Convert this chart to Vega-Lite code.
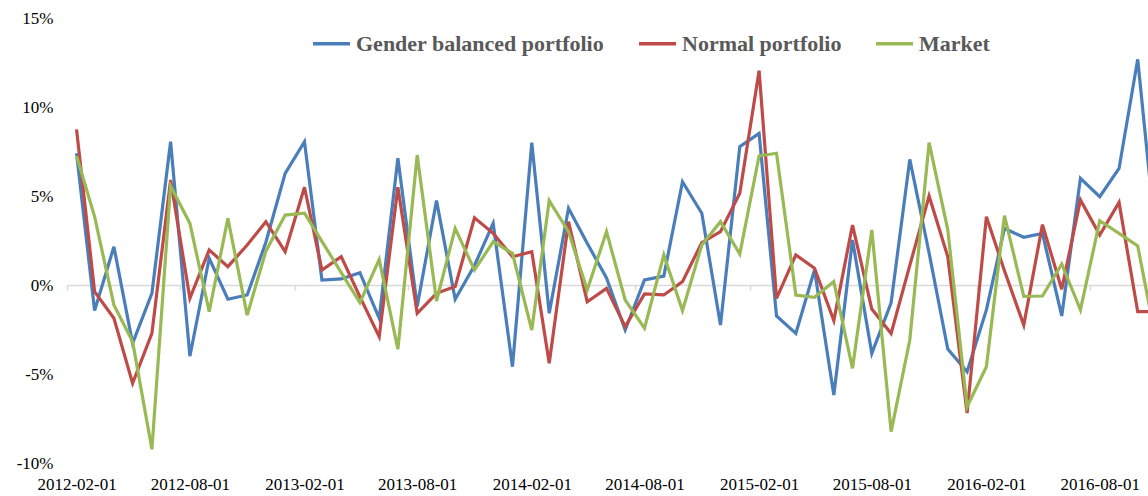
{
  "$schema": "https://vega.github.io/schema/vega-lite/v6.json",
  "width": 1081,
  "height": 445,
  "autosize": {"type": "none"},
  "padding": {"left": 67, "top": 18, "right": 0, "bottom": 33},
  "background": "white",
  "config": {"view": {"stroke": null}},
  "data": {
    "values": [
      {"date": "2012-02-01", "Gender balanced portfolio": 7.4, "Normal portfolio": 8.74, "Market": 7.25},
      {"date": "2012-03-01", "Gender balanced portfolio": -1.44, "Normal portfolio": -0.37, "Market": 3.84},
      {"date": "2012-04-01", "Gender balanced portfolio": 2.15, "Normal portfolio": -1.87, "Market": -1.12},
      {"date": "2012-05-01", "Gender balanced portfolio": -3.28, "Normal portfolio": -5.52, "Market": -3.18},
      {"date": "2012-06-01", "Gender balanced portfolio": -0.47, "Normal portfolio": -2.72, "Market": -9.23},
      {"date": "2012-07-01", "Gender balanced portfolio": 8.05, "Normal portfolio": 5.9, "Market": 5.56},
      {"date": "2012-08-01", "Gender balanced portfolio": -4.0, "Normal portfolio": -0.75, "Market": 3.46},
      {"date": "2012-09-01", "Gender balanced portfolio": 1.5, "Normal portfolio": 1.97, "Market": -1.5},
      {"date": "2012-10-01", "Gender balanced portfolio": -0.8, "Normal portfolio": 1.03, "Market": 3.74},
      {"date": "2012-11-01", "Gender balanced portfolio": -0.56, "Normal portfolio": 2.25, "Market": -1.69},
      {"date": "2012-12-01", "Gender balanced portfolio": 2.4, "Normal portfolio": 3.56, "Market": 1.9},
      {"date": "2013-01-01", "Gender balanced portfolio": 6.27, "Normal portfolio": 1.87, "Market": 3.93},
      {"date": "2013-02-01", "Gender balanced portfolio": 8.05, "Normal portfolio": 5.49, "Market": 4.03},
      {"date": "2013-03-01", "Gender balanced portfolio": 0.28, "Normal portfolio": 0.84, "Market": 2.45},
      {"date": "2013-04-01", "Gender balanced portfolio": 0.34, "Normal portfolio": 1.59, "Market": 0.7},
      {"date": "2013-05-01", "Gender balanced portfolio": 0.69, "Normal portfolio": -0.66, "Market": -0.99},
      {"date": "2013-06-01", "Gender balanced portfolio": -1.87, "Normal portfolio": -2.9, "Market": 1.44},
      {"date": "2013-07-01", "Gender balanced portfolio": 7.12, "Normal portfolio": 5.49, "Market": -3.61},
      {"date": "2013-08-01", "Gender balanced portfolio": -1.2, "Normal portfolio": -1.59, "Market": 7.3},
      {"date": "2013-09-01", "Gender balanced portfolio": 4.74, "Normal portfolio": -0.47, "Market": -0.9},
      {"date": "2013-10-01", "Gender balanced portfolio": -0.8, "Normal portfolio": -0.09, "Market": 3.18},
      {"date": "2013-11-01", "Gender balanced portfolio": 1.1, "Normal portfolio": 3.78, "Market": 0.84},
      {"date": "2013-12-01", "Gender balanced portfolio": 3.46, "Normal portfolio": 2.9, "Market": 2.43},
      {"date": "2014-01-01", "Gender balanced portfolio": -4.59, "Normal portfolio": 1.59, "Market": 1.78},
      {"date": "2014-02-01", "Gender balanced portfolio": 8.0, "Normal portfolio": 1.87, "Market": -2.53},
      {"date": "2014-03-01", "Gender balanced portfolio": -1.59, "Normal portfolio": -4.4, "Market": 4.74},
      {"date": "2014-04-01", "Gender balanced portfolio": 4.31, "Normal portfolio": 3.56, "Market": 3.0},
      {"date": "2014-05-01", "Gender balanced portfolio": 2.34, "Normal portfolio": -0.94, "Market": -0.28},
      {"date": "2014-06-01", "Gender balanced portfolio": 0.4, "Normal portfolio": -0.19, "Market": 3.0},
      {"date": "2014-07-01", "Gender balanced portfolio": -2.53, "Normal portfolio": -2.34, "Market": -0.84},
      {"date": "2014-08-01", "Gender balanced portfolio": 0.28, "Normal portfolio": -0.5, "Market": -2.43},
      {"date": "2014-09-01", "Gender balanced portfolio": 0.5, "Normal portfolio": -0.56, "Market": 1.69},
      {"date": "2014-10-01", "Gender balanced portfolio": 5.8, "Normal portfolio": 0.19, "Market": -1.44},
      {"date": "2014-11-01", "Gender balanced portfolio": 4.03, "Normal portfolio": 2.38, "Market": 2.25},
      {"date": "2014-12-01", "Gender balanced portfolio": -2.25, "Normal portfolio": 3.0, "Market": 3.56},
      {"date": "2015-01-01", "Gender balanced portfolio": 7.77, "Normal portfolio": 5.15, "Market": 1.74},
      {"date": "2015-02-01", "Gender balanced portfolio": 8.52, "Normal portfolio": 12.04, "Market": 7.25},
      {"date": "2015-03-01", "Gender balanced portfolio": -1.74, "Normal portfolio": -0.75, "Market": 7.4},
      {"date": "2015-04-01", "Gender balanced portfolio": -2.72, "Normal portfolio": 1.69, "Market": -0.56},
      {"date": "2015-05-01", "Gender balanced portfolio": 0.84, "Normal portfolio": 0.94, "Market": -0.69},
      {"date": "2015-06-01", "Gender balanced portfolio": -6.18, "Normal portfolio": -2.0, "Market": 0.19},
      {"date": "2015-07-01", "Gender balanced portfolio": 2.53, "Normal portfolio": 3.37, "Market": -4.68},
      {"date": "2015-08-01", "Gender balanced portfolio": -3.84, "Normal portfolio": -1.35, "Market": 3.09},
      {"date": "2015-09-01", "Gender balanced portfolio": -1.0, "Normal portfolio": -2.72, "Market": -8.24},
      {"date": "2015-10-01", "Gender balanced portfolio": 7.06, "Normal portfolio": 1.1, "Market": -3.09},
      {"date": "2015-11-01", "Gender balanced portfolio": 1.8, "Normal portfolio": 5.0, "Market": 8.0},
      {"date": "2015-12-01", "Gender balanced portfolio": -3.6, "Normal portfolio": 1.59, "Market": 3.1},
      {"date": "2016-01-01", "Gender balanced portfolio": -4.87, "Normal portfolio": -7.2, "Market": -6.84},
      {"date": "2016-02-01", "Gender balanced portfolio": -1.4, "Normal portfolio": 3.84, "Market": -4.59},
      {"date": "2016-03-01", "Gender balanced portfolio": 3.18, "Normal portfolio": 0.8, "Market": 3.9},
      {"date": "2016-04-01", "Gender balanced portfolio": 2.68, "Normal portfolio": -2.25, "Market": -0.64},
      {"date": "2016-05-01", "Gender balanced portfolio": 2.9, "Normal portfolio": 3.39, "Market": -0.62},
      {"date": "2016-06-01", "Gender balanced portfolio": -1.74, "Normal portfolio": -0.24, "Market": 1.18},
      {"date": "2016-07-01", "Gender balanced portfolio": 5.99, "Normal portfolio": 4.78, "Market": -1.4},
      {"date": "2016-08-01", "Gender balanced portfolio": 4.96, "Normal portfolio": 2.81, "Market": 3.61},
      {"date": "2016-09-01", "Gender balanced portfolio": 6.55, "Normal portfolio": 4.64, "Market": 2.9},
      {"date": "2016-10-01", "Gender balanced portfolio": 12.68, "Normal portfolio": -1.5, "Market": 2.19},
      {"date": "2016-11-01", "Gender balanced portfolio": 1.9, "Normal portfolio": -1.5, "Market": -3.4}
    ]
  },
  "transform": [
    {"fold": ["Gender balanced portfolio", "Normal portfolio", "Market"], "as": ["series", "ret"]}
  ],
  "mark": {"type": "line", "strokeWidth": 3.2, "clip": true},
  "encoding": {
    "x": {
      "field": "date",
      "type": "temporal",
      "scale": {
        "type": "utc",
        "domain": [
          {"year": 2012, "month": 1, "date": 16, "hours": 16, "utc": true},
          {"year": 2016, "month": 10, "date": 17, "hours": 12, "utc": true}
        ]
      },
      "axis": {
        "title": null,
        "values": [
          {"year": 2012, "month": 2, "date": 1, "utc": true},
          {"year": 2012, "month": 8, "date": 1, "utc": true},
          {"year": 2013, "month": 2, "date": 1, "utc": true},
          {"year": 2013, "month": 8, "date": 1, "utc": true},
          {"year": 2014, "month": 2, "date": 1, "utc": true},
          {"year": 2014, "month": 8, "date": 1, "utc": true},
          {"year": 2015, "month": 2, "date": 1, "utc": true},
          {"year": 2015, "month": 8, "date": 1, "utc": true},
          {"year": 2016, "month": 2, "date": 1, "utc": true},
          {"year": 2016, "month": 8, "date": 1, "utc": true}
        ],
        "format": "%Y-%m-%d",
        "offset": -178,
        "grid": false,
        "domainColor": "#d9d9d9",
        "domainWidth": 1.5,
        "tickColor": "#d9d9d9",
        "tickWidth": 1.5,
        "tickSize": 5,
        "tickOffset": -9.5,
        "labelOffset": 9.5,
        "labelPadding": 186,
        "labelFont": "Liberation Serif",
        "labelFontSize": 17,
        "labelColor": "#000000",
        "labelFlush": false,
        "labelOverlap": false,
        "labelBound": false
      }
    },
    "y": {
      "field": "ret",
      "type": "quantitative",
      "scale": {"domain": [-10, 15], "nice": false, "zero": false},
      "axis": {
        "title": null,
        "values": [-10, -5, 0, 5, 10, 15],
        "labelExpr": "datum.value + '%'",
        "grid": false,
        "domain": false,
        "ticks": false,
        "labelPadding": 14,
        "labelFont": "Liberation Serif",
        "labelFontSize": 17,
        "labelColor": "#000000",
        "labelFlush": false,
        "labelOverlap": false,
        "labelBound": false
      }
    },
    "color": {
      "field": "series",
      "type": "nominal",
      "sort": ["Gender balanced portfolio", "Normal portfolio", "Market"],
      "scale": {
        "domain": ["Gender balanced portfolio", "Normal portfolio", "Market"],
        "range": ["#4A7EBB", "#BE4B48", "#98B954"]
      },
      "legend": {
        "title": null,
        "orient": "none",
        "direction": "horizontal",
        "legendX": 244,
        "legendY": 5,
        "padding": 0,
        "symbolType": "stroke",
        "symbolSize": 1369,
        "symbolStrokeWidth": 3.5,
        "labelFont": "Liberation Serif",
        "labelFontWeight": "bold",
        "labelFontSize": 22,
        "labelColor": "#595959",
        "labelOffset": 4,
        "columnPadding": 27,
        "labelLimit": 400
      }
    }
  }
}
